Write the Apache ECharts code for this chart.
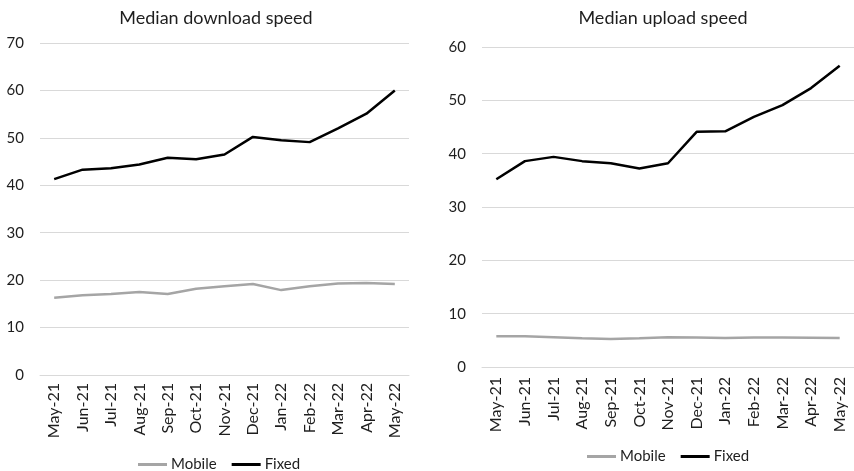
<!DOCTYPE html>
<html>
<head>
<meta charset="utf-8">
<script src="https://cdn.jsdelivr.net/npm/echarts@6/dist/echarts.min.js"></script>
<style>
  html, body { margin: 0; padding: 0; background: #fff; }
  #chart { width: 854px; height: 471px; }
</style>
</head>
<body>
<div id="chart"></div>
<script>
// Monthly categories shared by both panels
const months = ['May-21', 'Jun-21', 'Jul-21', 'Aug-21', 'Sep-21', 'Oct-21', 'Nov-21',
                'Dec-21', 'Jan-22', 'Feb-22', 'Mar-22', 'Apr-22', 'May-22'];

// Median download speed (Mbps)
const downloadMobile = [16.3, 16.8, 17.1, 17.5, 17.1, 18.2, 18.7, 19.2, 17.9, 18.7, 19.3, 19.4, 19.2];
const downloadFixed  = [41.3, 43.3, 43.6, 44.4, 45.8, 45.5, 46.5, 50.2, 49.5, 49.1, 52.0, 55.1, 60.0];

// Median upload speed (Mbps)
const uploadMobile = [5.75, 5.75, 5.6, 5.4, 5.25, 5.4, 5.6, 5.55, 5.45, 5.55, 5.55, 5.5, 5.45];
const uploadFixed  = [35.2, 38.6, 39.4, 38.6, 38.2, 37.2, 38.2, 44.1, 44.2, 46.9, 49.1, 52.3, 56.5];

const titles = ['Median download speed', 'Median upload speed'];
const seriesNames = ['Mobile', 'Fixed'];

const FONT = 'Lato, "Open Sans", sans-serif';
const TEXT = '#1e1e1e';
const MOBILE_COLOR = '#a5a5a5';
const FIXED_COLOR = '#000000';

function xAxis(gridIndex, margin) {
  return {
    type: 'category',
    gridIndex: gridIndex,
    data: months,
    boundaryGap: true,
    axisLine: { show: true, lineStyle: { color: '#d9d9d9', width: 1 } },
    axisTick: { show: false },
    axisLabel: { rotate: 90, color: TEXT, fontFamily: FONT, fontSize: 16, margin: margin, interval: 0 }
  };
}

function yAxis(gridIndex, max) {
  return {
    type: 'value',
    gridIndex: gridIndex,
    min: 0,
    max: max,
    interval: 10,
    axisLine: { show: false },
    axisTick: { show: false },
    splitLine: { lineStyle: { color: '#d9d9d9', width: 1 } },
    axisLabel: { color: TEXT, fontFamily: FONT, fontSize: 15, margin: 16 }
  };
}

function line(name, data, color, idx) {
  return {
    name: name,
    type: 'line',
    xAxisIndex: idx,
    yAxisIndex: idx,
    data: data,
    symbol: 'none',
    lineStyle: { color: color, width: 2.5 },
    itemStyle: { color: color },
    animation: false
  };
}

function legend(left, top) {
  return {
    data: seriesNames, left: left, top: top,
    itemWidth: 29, itemHeight: 3, itemGap: 15, icon: 'rect',
    textStyle: { fontFamily: FONT, fontSize: 15, color: TEXT, padding: [0, 0, 0, -1] }
  };
}

function title(text, x) {
  return {
    text: text, left: x, top: 4, textAlign: 'center',
    textStyle: { fontFamily: FONT, fontSize: 18, fontWeight: 'normal', color: TEXT }
  };
}

const chart = echarts.init(document.getElementById('chart'), null, { renderer: 'canvas' });
chart.setOption({
  backgroundColor: '#fff',
  animation: false,
  title: [title(titles[0], 211), title(titles[1], 658)],
  legend: [legend(133, 452), legend(582, 444)],
  grid: [
    { left: 40, right: 445, top: 43, bottom: 96, containLabel: false },
    { left: 482, right: -8, top: 47, bottom: 104, containLabel: false }
  ],
  xAxis: [xAxis(0, 8), xAxis(1, 10)],
  yAxis: [yAxis(0, 70), yAxis(1, 60)],
  series: [
    line(seriesNames[0], downloadMobile, MOBILE_COLOR, 0),
    line(seriesNames[1], downloadFixed, FIXED_COLOR, 0),
    line(seriesNames[0], uploadMobile, MOBILE_COLOR, 1),
    line(seriesNames[1], uploadFixed, FIXED_COLOR, 1)
  ]
});
</script>
</body>
</html>
